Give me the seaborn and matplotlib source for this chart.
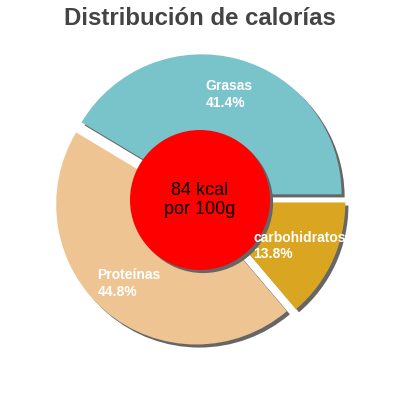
import matplotlib
matplotlib.use("Agg")
import matplotlib.pyplot as plt
import seaborn as sns
from matplotlib.patches import Circle

# Data
categories = ["Grasas", "Proteínas", "carbohidratos"]
percentages = [41.4, 44.8, 13.8]
colors = ["#79C3CB", "#EEC592", "#DAA520"]
kcal = 84
title = "Distribución de calorías"

sns.set_theme(style="white")
plt.rcParams['font.family'] = ['Liberation Sans', 'DejaVu Sans']

fig = plt.figure(figsize=(4, 4), dpi=100)
ax = fig.add_axes([0, 0, 1, 1])

explode = [0.042] * len(percentages)
shadow_off = 0.022
shadow_color = "#666666"

# shadow layer
ax.pie(percentages, colors=[shadow_color] * len(percentages), startangle=0,
       explode=explode, radius=1, center=(shadow_off, -shadow_off),
       wedgeprops=dict(linewidth=0))

labels = [f"{c}\n{p:.1f}%" for c, p in zip(categories, percentages)]
wedges, texts = ax.pie(percentages, colors=colors, labels=labels, labeldistance=0.74,
                       explode=explode, startangle=0, radius=1,
                       wedgeprops=dict(linewidth=0),
                       textprops=dict(color="white", fontsize=10, fontweight="bold"))
for t in texts:
    t.set_ha("center")
    t.set_va("center")
    t.set_multialignment("left")
    t.set_zorder(6)

ax.add_patch(Circle((shadow_off, -shadow_off), 0.5, color=shadow_color, zorder=3, lw=0))
ax.add_patch(Circle((0, 0), 0.5, color="#FF0000", zorder=4, lw=0))
ax.text(0, 0, f"{kcal} kcal\npor 100g", ha="center", va="center", fontsize=13,
        color="black", zorder=5, linespacing=1.2)

lim = 200 / 140
ax.set_xlim(-lim, lim)
ax.set_ylim(-lim, lim)
ax.set_aspect("equal")
ax.axis("off")

fig.text(0.5, 1 - 25 / 400, title, ha="center", va="baseline", fontsize=17.3,
         fontweight="bold", color="#444444")

fig.savefig("out.png", dpi=100)
